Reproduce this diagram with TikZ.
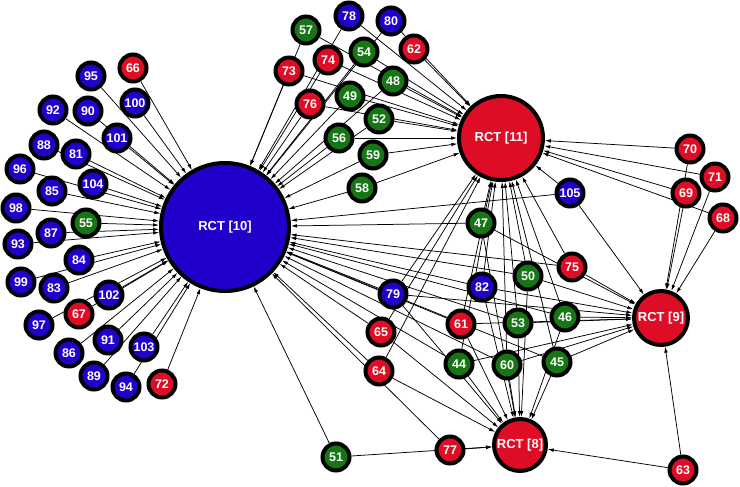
\documentclass[tikz,border=0pt]{standalone}
\usepackage{fontspec}
\setmainfont{Liberation Sans}
\usetikzlibrary{arrows.meta,backgrounds}

\definecolor{rctblue}{RGB}{34,0,204}
\definecolor{rctred}{RGB}{222,12,36}
\definecolor{rctgreen}{RGB}{22,118,22}

\tikzset{
  study/.style={circle, draw=black, line width=4pt, minimum size=27pt, inner sep=0pt,
    text=white, font=\fontsize{12.5}{12.5}\selectfont\bfseries},
  sblue/.style={study, fill=rctblue},
  sred/.style={study, fill=rctred},
  sgreen/.style={study, fill=rctgreen},
  hub/.style={study, font=\fontsize{13}{13}\selectfont\bfseries},
  link/.style={-{Latex[length=6pt,width=3.6pt]}, line width=0.75pt, black},
}

\begin{document}
\begin{tikzpicture}[x=1pt,y=-1pt]
				\useasboundingbox (0,0) rectangle (740,487);
				
				% hubs
				\node[hub, fill=rctblue, minimum size=128pt]   (r10) at (225,227) {RCT [10]};
				\node[hub, fill=rctred, minimum size=84pt]     (r11) at (501,138) {RCT [11]};
				\node[hub, fill=rctred, minimum size=54pt]     (r9)  at (661,318) {RCT [9]};
				\node[hub, fill=rctred, minimum size=52pt]     (r8)  at (520,445) {RCT [8]};
				
				% left fan
				\node[sred]   (n66)  at (133,68)  {66};
				\node[sblue]  (n95)  at (91,76)   {95};
				\node[sblue]  (n100) at (135,103) {100};
				\node[sblue]  (n92)  at (53,110)  {92};
				\node[sblue]  (n90)  at (88,111)  {90};
				\node[sblue]  (n101) at (117,138) {101};
				\node[sblue]  (n88)  at (44,145)  {88};
				\node[sblue]  (n81)  at (76,154)  {81};
				\node[sblue]  (n96)  at (20,169)  {96};
				\node[sblue]  (n104) at (93,184)  {104};
				\node[sblue]  (n85)  at (52,191)  {85};
				\node[sblue]  (n98)  at (16,208)  {98};
				\node[sgreen] (n55)  at (86,223)  {55};
				\node[sblue]  (n87)  at (51,233)  {87};
				\node[sblue]  (n93)  at (18,244)  {93};
				\node[sblue]  (n84)  at (79,260)  {84};
				\node[sblue]  (n99)  at (21,282)  {99};
				\node[sblue]  (n83)  at (54,288)  {83};
				\node[sblue]  (n102) at (109,295) {102};
				\node[sred]   (n67)  at (79,314)  {67};
				\node[sblue]  (n97)  at (39,325)  {97};
				\node[sblue]  (n91)  at (108,340) {91};
				\node[sblue]  (n103) at (144,347) {103};
				\node[sblue]  (n86)  at (69,353)  {86};
				\node[sblue]  (n89)  at (94,376)  {89};
				\node[sred]   (n72)  at (162,384) {72};
				\node[sblue]  (n94)  at (126,387) {94};
				
				% top cluster
				\node[sblue]  (n78)  at (349,16)  {78};
				\node[sblue]  (n80)  at (391,21)  {80};
				\node[sgreen] (n57)  at (306,30)  {57};
				\node[sred]   (n62)  at (414,49)  {62};
				\node[sgreen] (n54)  at (364,52)  {54};
				\node[sred]   (n74)  at (328,60)  {74};
				\node[sred]   (n73)  at (289,71)  {73};
				\node[sgreen] (n48)  at (393,81)  {48};
				\node[sgreen] (n49)  at (350,96)  {49};
				\node[sred]   (n76)  at (310,104) {76};
				\node[sgreen] (n52)  at (379,119) {52};
				\node[sgreen] (n56)  at (339,138) {56};
				\node[sgreen] (n59)  at (373,155) {59};
				\node[sgreen] (n58)  at (362,188) {58};
				
				% right group
				\node[sred]   (n70)  at (690,149) {70};
				\node[sred]   (n71)  at (715,177) {71};
				\node[sred]   (n69)  at (686,193) {69};
				\node[sred]   (n68)  at (723,218) {68};
				\node[sblue]  (n105) at (570,193) {105};
				
				% middle
				\node[sgreen] (n47)  at (481,223) {47};
				\node[sred]   (n75)  at (572,267) {75};
				\node[sgreen] (n50)  at (528,276) {50};
				\node[sblue]  (n82)  at (482,287) {82};
				\node[sblue]  (n79)  at (393,294) {79};
				\node[sgreen] (n46)  at (565,317) {46};
				\node[sgreen] (n53)  at (518,323) {53};
				\node[sred]   (n61)  at (461,324) {61};
				\node[sred]   (n65)  at (381,332) {65};
				\node[sgreen] (n45)  at (557,362) {45};
				\node[sgreen] (n44)  at (459,364) {44};
				\node[sgreen] (n60)  at (507,365) {60};
				\node[sred]   (n64)  at (379,371) {64};
				
				% bottom
				\node[sgreen] (n51)  at (336,457) {51};
				\node[sred]   (n77)  at (450,450) {77};
				\node[sred]   (n63)  at (683,470) {63};
				
				\begin{pgfonlayer}{background}
				\fill[white] (0,0) rectangle (740,487);
				\foreach \s in {66,95,100,92,90,101,88,81,96,104,85,98,55,87,93,84,99,83,102,67,97,91,103,86,89,72,94,
				                57,78,80,73,74,54,48,49,76,52,56,59,58,
				                105,47,75,50,82,79,46,53,61,65,45,44,60,64,51,77}
				  \draw[link] (n\s) -- (r10);
				\foreach \s in {57,78,80,62,54,74,73,48,49,76,52,56,59,58,
				                70,71,69,68,105,47,82,79,61,53,50,75,44,60,45,46,65,64}
				  \draw[link] (n\s) -- (r11);
				\foreach \s in {70,71,69,68,105,75,46,45,61,53,50,79,44,60,82,47,63}
				  \draw[link] (n\s) -- (r9);
				\foreach \s in {44,60,45,61,53,82,79,65,64,77,51,63,50,46,47}
				  \draw[link] (n\s) -- (r8);
				\end{pgfonlayer}
				
\end{tikzpicture}
\end{document}
